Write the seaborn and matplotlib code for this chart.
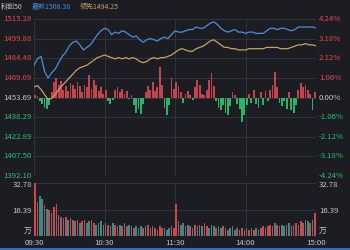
import matplotlib
matplotlib.use("Agg")
import matplotlib.pyplot as plt
import seaborn as sns
import numpy as np
import pandas as pd
from matplotlib.patches import Rectangle

sns.set_style("dark")
plt.rcParams['font.family'] = ['Noto Sans CJK SC', 'DejaVu Sans']

# ---------------- data ----------------
title_name = "科创50"
latest_label = "最新1508.38"
lead_label = "领先1494.25"
prev_close = 1453.69
price_ticks = [1515.28, 1499.88, 1484.48, 1469.09, 1453.69, 1438.29, 1422.89, 1407.50, 1392.10]
pct_ticks = ["4.24%", "3.18%", "2.12%", "1.06%", "0.00%", "-1.06%", "-2.12%", "-3.18%", "-4.24%"]
time_ticks = [0, 60, 120, 180, 240]
time_labels = ["09:30", "10:30", "11:30", "14:00", "15:00"]
vol_ticks = [32.78, 16.39]
vol_unit = "万"

minutes3 = list(range(0, 241, 3))
latest = [1479, 1484, 1486, 1474, 1469, 1473, 1476, 1481, 1486, 1489,
          1494, 1497, 1498, 1495, 1491, 1493, 1495, 1499, 1503, 1506,
          1508, 1507, 1503, 1505, 1504, 1506, 1505, 1503, 1501, 1502,
          1499, 1497, 1499, 1500, 1499, 1498, 1500, 1501, 1500, 1503,
          1506, 1505, 1505, 1506, 1507, 1507, 1509, 1508, 1508, 1510,
          1512, 1513, 1511, 1508, 1506, 1505, 1506, 1507, 1505, 1505,
          1504, 1505, 1505, 1504, 1504, 1504, 1506, 1508, 1508, 1507,
          1508, 1508, 1507, 1506, 1507, 1509, 1509, 1509, 1509, 1509, 1508.38]
leading = [1462, 1463, 1460, 1456, 1452, 1453, 1456, 1460, 1463, 1466,
           1469, 1472, 1475, 1477, 1478, 1479, 1481, 1483, 1485, 1486,
           1487, 1486, 1485, 1484, 1485, 1484, 1485, 1484, 1485, 1484,
           1482, 1481, 1482, 1484, 1485, 1484, 1485, 1485, 1486, 1487,
           1489, 1491, 1492, 1491, 1490, 1490, 1492, 1493, 1494, 1496,
           1498, 1499, 1497, 1495, 1493, 1493, 1492, 1492, 1491, 1491,
           1491, 1492, 1492, 1492, 1492, 1492, 1493, 1493, 1493, 1493,
           1492, 1492, 1492, 1493, 1494, 1495, 1495, 1496, 1495, 1495, 1494.25]

minutes2 = list(range(1, 240, 2))
diff_bars = [2, 1, -3, -5, -8, -9, -6, 4, 12, 15,
             10, 13, 6, 9, 5, 11, 10, 7, 12, 9,
             4, 10, 8, 18, 7, 14, 10, 5, 8, 3,
             6, -3, -5, -2, 6, 8, 4, 7, 3, 5,
             -1, 2, -6, -12, -9, -13, -5, 4, 9, 6,
             12, 5, 8, 24, 10, -8, -14, -6, 15, 7,
             12, 9, 4, -4, 3, 5, 2, -2, 8, 14,
             10, 3, 2, 6, 14, 19, 9, -3, -8, -10,
             -6, -12, -14, -7, 4, 2, -5, -9, -19, -14,
             -6, 3, -4, 6, -5, -8, 4, -6, 5, -3,
             6, 10, 20, 8, -4, -7, -3, -9, 4, -10,
             -12, -6, 6, 11, 8, 10, 6, 3, -10, 4]

volume = [34, 21, 25, 23, 19, 17, 16, 14, 18, 20,
          13, 12, 11, 12, 10, 11, 10, 9, 10, 8,
          9, 10, 8, 9, 10, 8, 7, 8, 9, 7,
          8, 7, 6, 8, 7, 6, 7, 6, 8, 6,
          7, 6, 5, 6, 5, 6, 5, 6, 7, 5,
          6, 5, 4, 6, 5, 5, 4, 5, 6, 5,
          20, 9, 7, 8, 6, 7, 6, 5, 7, 6,
          7, 6, 8, 6, 5, 7, 6, 5, 6, 5,
          6, 5, 4, 5, 6, 4, 5, 4, 5, 4,
          5, 4, 5, 4, 5, 4, 5, 6, 5, 6,
          7, 6, 8, 7, 6, 7, 6, 7, 8, 6,
          7, 8, 7, 9, 8, 10, 9, 8, 10, 14]
vol_dir = ("rrttrtrtrr" "trtrtrrtrt" "rrttrrtttr" "trttrrtrtr"
           "ttrttt" "rtrr" "trrrrtttrr"
           "rrttrtrtrt" "rtrrtttrtt" "rtrtttrtrt" "rrtrttrrtr"
           "rrtrrttrtt" "rrtrrttrtr")

# ---------------- style ----------------
bg = "#1b1d23"
grid_c = "#30343b"
red_txt = "#e5484d"
green_txt = "#2fbf6f"
gray_txt = "#c4c6ca"
blue_c = "#4b8fd8"
tan_c = "#c9a062"
bar_red = "#c2454d"
bar_green = "#2bb36a"
vol_red = "#c84a4f"
vol_teal = "#3a8a8a"
fs = 5.6
fs_head = 5.0

fig = plt.figure(figsize=(3.5, 2.5), dpi=100, facecolor=bg)
W, H = 350, 250
ax = fig.add_axes([34 / W, 1 - 176 / H, 282 / W, 157 / H], facecolor=bg)
axv = fig.add_axes([34 / W, 1 - 236 / H, 282 / W, 53 / H], facecolor=bg)

for a in (ax, axv):
    for s in a.spines.values():
        s.set_visible(False)
    a.grid(False)
    for t in time_ticks:
        a.axvline(t, color=grid_c, lw=0.7, zorder=0)

# main panel
for p in price_ticks:
    ax.axhline(p, color=grid_c, lw=0.7, zorder=0)

ax.bar(minutes2, diff_bars, bottom=prev_close, width=1.5,
       color=[bar_red if v > 0 else bar_green for v in diff_bars], zorder=1, linewidth=0)

sns.lineplot(x=minutes3, y=leading, ax=ax, color=tan_c, linewidth=0.9, zorder=3)
sns.lineplot(x=minutes3, y=latest, ax=ax, color=blue_c, linewidth=0.9, zorder=4)

ax.set_xlim(0, 240)
ax.set_ylim(price_ticks[-1], price_ticks[0])
ax.set_xticks([])
ax.set_yticks([])
ax.set_xlabel("")
ax.set_ylabel("")

ytr = ax.get_yaxis_transform()
for i, (p, pc) in enumerate(zip(price_ticks, pct_ticks)):
    c = red_txt if p > prev_close else (green_txt if p < prev_close else gray_txt)
    ax.text(-0.008, p, f"{p:.2f}", transform=ytr, ha="right", va="center",
            fontsize=fs, color=c, clip_on=False)
    ax.text(1.01, p, pc, transform=ytr, ha="left", va="center",
            fontsize=fs, color=c, clip_on=False)

# volume panel
vdf = pd.DataFrame({"m": minutes2, "v": volume, "d": list(vol_dir)})
sns.barplot(data=vdf, x="m", y="v", hue="d", palette={"r": vol_red, "t": vol_teal},
            native_scale=True, width=0.7, legend=False, ax=axv, linewidth=0,
            saturation=1, zorder=2)
axv.set_xlim(0, 240)
axv.set_ylim(0, 32.78)
for v in vol_ticks:
    axv.axhline(v, color=grid_c, lw=0.7, zorder=0)
axv.set_yticks([])
axv.set_xlabel("")
axv.set_ylabel("")
axv.set_xticks(time_ticks)
axv.set_xticklabels(time_labels)
axv.tick_params(axis="x", length=0, pad=2.5, labelsize=fs, colors=gray_txt)

vtr = axv.get_yaxis_transform()
for xpos, ha in ((-0.008, "right"), (1.01, "left")):
    axv.text(xpos, 31.3, f"{vol_ticks[0]:.2f}", transform=vtr, ha=ha, va="center", fontsize=fs, color=gray_txt)
    axv.text(xpos, 15.4, f"{vol_ticks[1]:.2f}", transform=vtr, ha=ha, va="center", fontsize=fs, color=gray_txt)
    axv.text(xpos, 3.0, vol_unit, transform=vtr, ha=ha, va="center", fontsize=fs, color=gray_txt)

# header
fig.text(1 / W, 1 - 7 / H, title_name, ha="left", va="center", fontsize=fs_head, color=gray_txt)
fig.text(32 / W, 1 - 7 / H, latest_label, ha="left", va="center", fontsize=fs_head, color=blue_c)
fig.text(80 / W, 1 - 7 / H, lead_label, ha="left", va="center", fontsize=fs_head, color=tan_c)

# bottom strip
fig.patches.append(Rectangle((0, 0), 1, 2 / H, transform=fig.transFigure,
                             facecolor="#2a6fcf", edgecolor="none"))

fig.savefig("out.png", dpi=100, facecolor=bg)
